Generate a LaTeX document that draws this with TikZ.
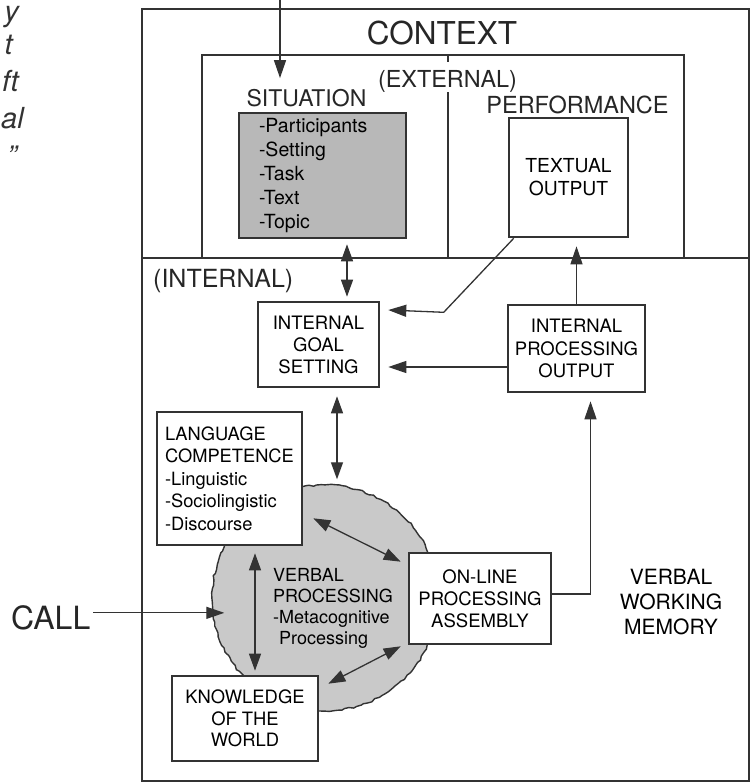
\documentclass[tikz,border=0pt]{standalone}
\usepackage{fontspec}
\setmainfont{TeX Gyre Heros}
\usetikzlibrary{arrows.meta, decorations.pathmorphing}

\definecolor{ink}{gray}{0.2}
\definecolor{shade}{gray}{0.72}
\definecolor{blobshade}{gray}{0.79}

\newcommand{\fs}[2]{\fontsize{#1}{#2}\selectfont}

\tikzset{
	line/.style={draw=ink, line width=1.3pt},
	arr/.style={line, -{Triangle[length=18pt, width=12pt]}},
	dbl/.style={line, {Triangle[length=17pt, width=12pt]}-{Triangle[length=17pt, width=12pt]}},
	frame/.style={draw=ink, line width=2pt},
	procbox/.style={draw=ink, line width=2.6pt, fill=white, align=center, inner sep=0pt, font=\fs{18.5}{22}},
	heading/.style={inner sep=0pt, anchor=base, text=black!85},
	blob/.style={circle, inner sep=0pt, minimum size=226pt, fill=blobshade, draw=ink, line width=1.4pt,
		decorate, decoration={random steps, segment length=4pt, amplitude=1pt}},
}

\newcommand{\procNode}[7][]{
	\node[procbox, minimum width=#4pt, minimum height=#5pt, #1] (#6) at (#2, #3) {#7};
}
\newcommand{\edgeArrow}[3][arr]{
	\draw[#1] (#2) -- (#3);
}

\begin{document}
\begin{tikzpicture}[x=1pt, y=-1pt]
	\useasboundingbox (0,0) rectangle (752,784);

	% frames
	\draw[frame] (142,9) rectangle (749,781);
	\draw[frame] (142,258) -- (749,258);
	\draw[frame] (202,55) rectangle (684,258);
	\draw[frame] (448,92) -- (448,258);
	\draw[frame] (448,55) -- (448,62);

	\node[heading, font=\fs{31.5}{36}] (context) at (442,45) {CONTEXT};
	\node[heading, font=\fs{23.4}{28}] (external) at (447.5,88) {(EXTERNAL)};
	\node[heading, font=\fs{23}{28}] (sitlabel) at (306.5,106) {SITUATION};
	\node[heading, font=\fs{23.5}{28}] (perflabel) at (577.5,113) {PERFORMANCE};
	\node[heading, anchor=base west, font=\fs{25}{30}] (internal) at (153,287) {(INTERNAL)};
	\node[heading, anchor=base west, font=\fs{32}{36}] (call) at (11,629) {CALL};
	\node[inner sep=0pt, align=center, font=\fs{21}{25}] (vwm) at (671,602.5) {VERBAL\\WORKING\\MEMORY};

	\foreach \frag/\xr/\yb [count=\i] in {y/19/22, t/13/55, ft/19/91, al/24/128, ”/17/166} {
		\node[anchor=base east, inner sep=0pt, text=black!80, font=\fs{29}{34}\itshape] (frag\i) at (\xr,\yb) {\frag};
	}

	\node[blob] (vp) at (325,598) {};

	\procNode[fill=shade, align=left, text width=127pt, inner xsep=20pt, font=\fs{19.5}{23.8}]{322.5}{175.5}{167}{125}{sit}
		{-Participants\\-Setting\\-Task\\-Text\\-Topic};
	\procNode[font=\fs{19.3}{23}]{568.5}{177.5}{119}{119}{textout}{TEXTUAL\\OUTPUT};
	\procNode{318.5}{344.5}{121}{85}{goal}{INTERNAL\\GOAL\\SETTING};
	\procNode[font=\fs{18.5}{22.5}]{576.5}{348.5}{137}{87}{ipo}{INTERNAL\\PROCESSING\\OUTPUT};
	\procNode[align=left, text width=129pt, inner xsep=8pt, font=\fs{18.3}{22.5}]{229.5}{478.5}{145}{133}{langcomp}
		{LANGUAGE\\COMPETENCE\\-Linguistic\\-Sociolingistic\\-Discourse};
	\procNode{480}{598.5}{142}{91}{online}{ON-LINE\\PROCESSING\\ASSEMBLY};
	\procNode[font=\fs{18.4}{21.5}]{245}{718.5}{146}{85}{knowledge}{KNOWLEDGE\\OF THE\\WORLD};

	\node[anchor=north west, inner sep=0pt, align=left, font=\fs{18}{21}] (vptext) at (273,568)
		{VERBAL\\PROCESSING\\-Metacognitive\\\hphantom{-}Processing};

	\coordinate (topin) at (280,-2);
	\edgeArrow[arr, shorten >=10.5pt]{topin}{topin |- sitlabel.north};
	\edgeArrow[dbl, shorten <=4pt, shorten >=5pt]{[xshift=28.5pt]goal.north}{[xshift=28.5pt]goal.north |- sit.south};
	\edgeArrow[dbl, shorten <=8pt, shorten >=5pt]{[xshift=18.5pt]goal.south}{[xshift=18.5pt]goal.south |- vp.north};
	\edgeArrow[dbl, shorten <=7pt, shorten >=4pt]{[xshift=25.5pt]langcomp.south}{[xshift=25.5pt]langcomp.south |- knowledge.north};
	\edgeArrow[dbl]{[xshift=10pt, yshift=28pt]langcomp.south east}{[xshift=-7pt, yshift=-10pt]online.north west};
	\edgeArrow[dbl]{[xshift=9pt, yshift=-9pt]knowledge.north east}{[xshift=-7pt, yshift=-1pt]online.south west};
	\edgeArrow[arr, shorten <=3pt, shorten >=-13pt]{[yshift=4.5pt]call.east}{[yshift=4.5pt]call.east -| vp.west};
	\edgeArrow[arr, shorten >=8pt]{[yshift=-18.5pt]ipo.west}{[yshift=-18.5pt]ipo.west -| goal.east};
	\edgeArrow[arr, shorten >=8pt]{ipo.north}{ipo.north |- textout.south};
	\draw[arr, shorten >=8pt] ([xshift=6pt]textout.south west) -- ++(-70,74) -- ([yshift=-9pt]goal.north east);
	\draw[arr, shorten >=8pt] ([yshift=4.5pt]online.east) -| ([xshift=14pt]ipo.south);
\end{tikzpicture}
\end{document}
